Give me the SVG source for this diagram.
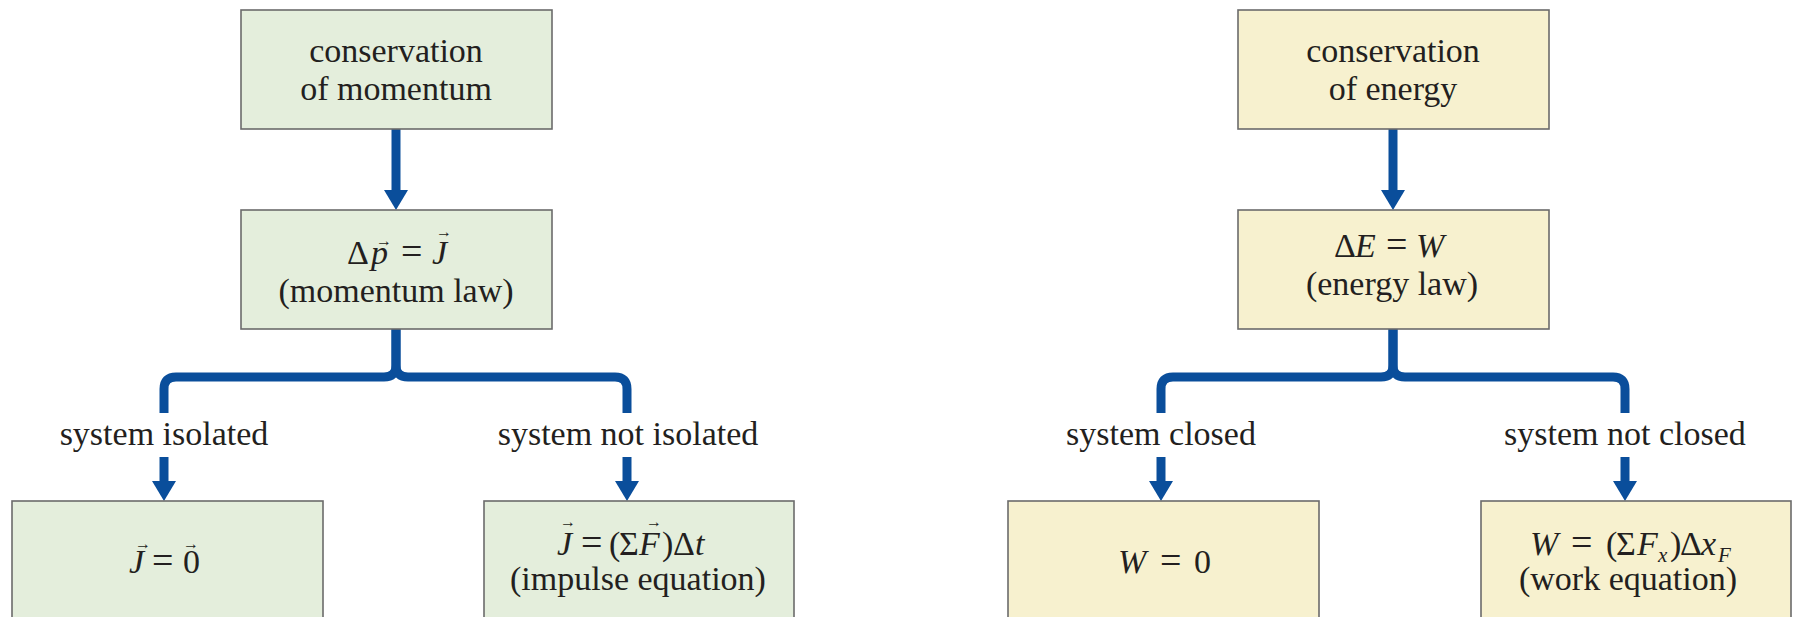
<svg xmlns="http://www.w3.org/2000/svg" width="1793" height="617" viewBox="0 0 1793 617">
<style>
.t{font-family:"Liberation Serif","Times New Roman",serif;font-size:34px;fill:#231f20}
.c{text-anchor:middle}
.i{font-style:italic}
.eq{font-size:38px}
.sub{font-size:21px}
.vec{font-family:"Liberation Serif","DejaVu Serif",serif;font-size:16px;fill:#231f20;text-anchor:middle}
.g{fill:#e4eedc;stroke:#6b6b6b;stroke-width:1.6}
.y{fill:#f7f1cf;stroke:#6b6b6b;stroke-width:1.6}
.ln{fill:none;stroke:#0a4e9b;stroke-width:9;stroke-linejoin:round}
.ar{fill:none;stroke:#0a4e9b;stroke-width:9;marker-end:url(#ah)}
</style>
<defs>
<marker id="ah" viewBox="0 0 20 24" markerWidth="20" markerHeight="24" refX="5" refY="12" orient="auto" markerUnits="userSpaceOnUse">
<path d="M0,0 L20,12 L0,24 Z" fill="#0a4e9b"/>
</marker>
</defs>
<rect width="1793" height="617" fill="#ffffff"/>

<g id="connectors">
<line class="ar" x1="396" y1="129" x2="396" y2="195"/>
<line class="ar" x1="1393" y1="129" x2="1393" y2="195"/>
<path class="ln" d="M396,329 V365 Q396,377 384,377 H176 Q164,377 164,389 V413"/>
<path class="ln" d="M396,329 V365 Q396,377 408,377 H615 Q627,377 627,389 V413"/>
<path class="ln" d="M1393,329 V365 Q1393,377 1381,377 H1173 Q1161,377 1161,389 V413"/>
<path class="ln" d="M1393,329 V365 Q1393,377 1405,377 H1613 Q1625,377 1625,389 V413"/>
<text class="t c" x="164" y="445">system isolated</text>
<text class="t c" x="628" y="445">system not isolated</text>
<text class="t c" x="1161" y="445">system closed</text>
<text class="t c" x="1625" y="445">system not closed</text>
<line class="ar" x1="164" y1="457" x2="164" y2="486"/>
<line class="ar" x1="627" y1="457" x2="627" y2="486"/>
<line class="ar" x1="1161" y1="457" x2="1161" y2="486"/>
<line class="ar" x1="1625" y1="457" x2="1625" y2="486"/>
</g>

<g id="n-cons-momentum">
<rect class="g" x="241" y="10" width="311" height="119"/>
<text class="t c" x="396" y="62">conservation</text>
<text class="t c" x="396" y="100">of momentum</text>
</g>

<g id="n-momentum-law">
<rect class="g" x="241" y="210" width="311" height="119"/>
<text class="t" y="264"><tspan x="347">Δ</tspan><tspan class="i" x="371">p</tspan><tspan class="eq" x="401">=</tspan><tspan class="i" x="432">J</tspan></text>
<text class="vec" x="384" y="246">→</text>
<text class="vec" x="444" y="237">→</text>
<text class="t c" x="396" y="302">(momentum law)</text>
</g>

<g id="n-J-zero">
<rect class="g" x="12" y="501" width="311" height="130"/>
<text class="t" y="573"><tspan class="i" x="129">J</tspan><tspan class="eq" x="152">=</tspan><tspan x="183">0</tspan></text>
<text class="vec" x="143" y="549">→</text>
<text class="vec" x="191" y="549">→</text>
</g>

<g id="n-impulse">
<rect class="g" x="484" y="501" width="310" height="130"/>
<text class="t" y="555"><tspan class="i" x="557">J</tspan><tspan class="eq" x="581">=</tspan><tspan x="609">(</tspan><tspan x="619">Σ</tspan><tspan class="i" x="639">F</tspan><tspan x="662">)</tspan><tspan x="673">Δ</tspan><tspan class="i" x="695">t</tspan></text>
<text class="vec" x="568" y="527">→</text>
<text class="vec" x="654" y="527">→</text>
<text class="t c" x="638" y="590">(impulse equation)</text>
</g>

<g id="n-cons-energy">
<rect class="y" x="1238" y="10" width="311" height="119"/>
<text class="t c" x="1393" y="62">conservation</text>
<text class="t c" x="1393" y="100">of energy</text>
</g>

<g id="n-energy-law">
<rect class="y" x="1238" y="210" width="311" height="119"/>
<text class="t" y="257"><tspan x="1334">Δ</tspan><tspan class="i" x="1355">E</tspan><tspan class="eq" x="1386">=</tspan><tspan class="i" x="1416">W</tspan></text>
<text class="t c" x="1392" y="295">(energy law)</text>
</g>

<g id="n-W-zero">
<rect class="y" x="1008" y="501" width="311" height="130"/>
<text class="t" y="573"><tspan class="i" x="1118">W</tspan><tspan class="eq" x="1160">=</tspan><tspan x="1194">0</tspan></text>
</g>

<g id="n-work">
<rect class="y" x="1481" y="501" width="310" height="130"/>
<text class="t" y="555"><tspan class="i" x="1530">W</tspan><tspan class="eq" x="1571">=</tspan><tspan x="1606">(</tspan><tspan x="1616">Σ</tspan><tspan class="i" x="1637">F</tspan><tspan class="i sub" x="1658" y="562">x</tspan><tspan x="1670" y="555">)</tspan><tspan x="1680">Δ</tspan><tspan class="i" x="1701">x</tspan><tspan class="i sub" x="1718" y="562">F</tspan></text>
<text class="t c" x="1628" y="590">(work equation)</text>
</g>
</svg>
